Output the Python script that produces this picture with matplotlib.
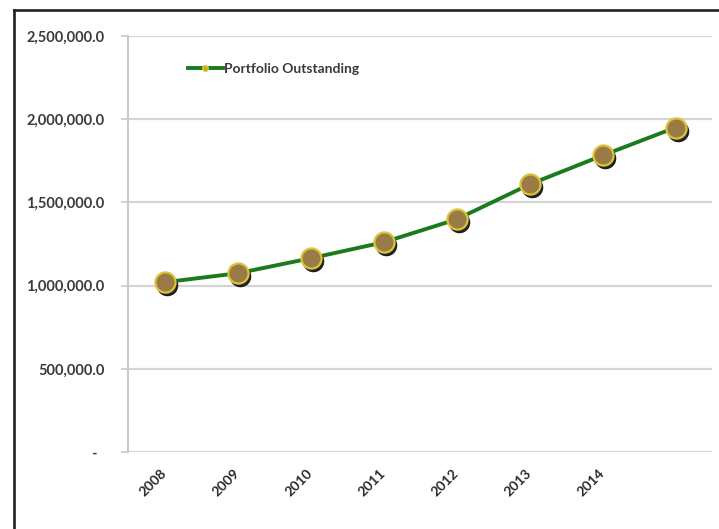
import matplotlib
matplotlib.use("Agg")
import matplotlib.pyplot as plt
from matplotlib.lines import Line2D
from matplotlib import transforms

plt.rcParams['font.family'] = ['Lato', 'DejaVu Sans']

# Data
years = ["2008", "2009", "2010", "2011", "2012", "2013", "2014", "2015"]
tick_labels = ["2008", "2009", "2010", "2011", "2012", "2013", "2014", ""]
portfolio = [1020000, 1074000, 1164000, 1260000, 1398000, 1608000, 1782000, 1950000]
y_ticks = [0, 500000, 1000000, 1500000, 2000000, 2500000]
series_name = "Portfolio Outstanding"

W, H = 719, 529
fig = plt.figure(figsize=(W / 100, H / 100), dpi=100)
ax = fig.add_axes([128 / W, 1 - 452 / H, (712 - 128) / W, (452 - 36) / H])

x = list(range(len(years)))
line_green = "#1b7a1b"
face = "#9b7b45"
edge = "#d9c43c"

ax.plot(x, portfolio, color=line_green, lw=2.8, zorder=3, solid_capstyle="round")
shadow_tr = transforms.offset_copy(ax.transData, fig=fig, x=2.5, y=-3, units="dots")
ax.plot(x, portfolio, ls="none", marker="o", ms=14.5, mfc="#111111", mec="#111111",
        alpha=0.9, transform=shadow_tr, zorder=4)
ax.plot(x, portfolio, ls="none", marker="o", ms=14.5, mfc=face, mec=edge, mew=1.6,
        zorder=5)

ax.set_xlim(-0.5, len(years) - 0.5)
ax.set_ylim(0, 2500000)

ax.set_yticks(y_ticks)
ylabels = ["-  " if v == 0 else f"{v:,.1f}" for v in y_ticks]
ax.set_yticklabels(ylabels, fontsize=10.5, fontweight="bold", color="#3a3a3a")
ax.tick_params(axis="y", length=5, width=1.2, color="#c8c8c8", pad=12)

ax.set_xticks(x)
ax.set_xticklabels(tick_labels, rotation=45, ha="right", va="center",
                   rotation_mode="anchor", fontsize=10, fontweight="bold",
                   color="#2a2a2a")
ax.tick_params(axis="x", length=0, pad=14)

ax.grid(axis="y", color="#d4d4d4", lw=1.6)
ax.set_axisbelow(True)
for side in ("top", "right"):
    ax.spines[side].set_visible(False)
ax.spines["bottom"].set_visible(False)
ax.spines["left"].set_color("#c8c8c8")
ax.spines["left"].set_linewidth(1.4)

handle = Line2D([], [], color=line_green, lw=2.8, marker="o", ms=4,
                mfc="#c8a830", mec="#d9c43c")
ax.legend([handle], [series_name], loc="center left",
          bbox_to_anchor=(181 / W, 1 - 69 / H), bbox_transform=fig.transFigure,
          frameon=False, handlelength=2.5, handletextpad=0.1, borderpad=0,
          prop={"size": 10, "weight": "bold"}, labelcolor="#3a3a3a")

# outer frame
frame_kw = dict(color="#222222", lw=1.9, transform=fig.transFigure)
fig.add_artist(Line2D([14 / W, 14 / W], [1 - 9.5 / H, 0], **frame_kw))
fig.add_artist(Line2D([14 / W, 1], [1 - 9.5 / H, 1 - 9.5 / H], **frame_kw))

fig.savefig("out.png", dpi=100)
